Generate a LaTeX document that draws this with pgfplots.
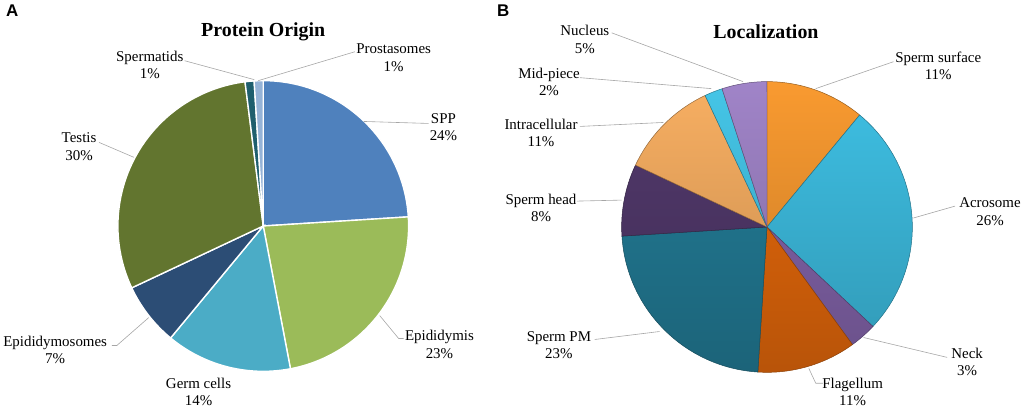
\documentclass[border=0pt]{standalone}
\usepackage{pgfplots}
\pgfplotsset{compat=1.18}
\usepackage{fontspec}
\setmainfont{Liberation Serif}
\newfontfamily\panelfont{Liberation Sans}

% left pie
\definecolor{spp}{HTML}{4F81BD}
\definecolor{epi}{HTML}{9BBB59}
\definecolor{germ}{HTML}{4BACC6}
\definecolor{epism}{HTML}{2C4D75}
\definecolor{testis}{HTML}{62752F}
\definecolor{sptid}{HTML}{1F5F6E}
\definecolor{prost}{HTML}{95B3D7}
% right pie
\definecolor{surf}{HTML}{F99A30}
\definecolor{acro}{HTML}{3EC0E4}
\definecolor{neck}{HTML}{8666AE}
\definecolor{flag}{HTML}{E96A0B}
\definecolor{spm}{HTML}{237E99}
\definecolor{head}{HTML}{52396C}
\definecolor{intra}{HTML}{F8AF62}
\definecolor{midp}{HTML}{45C6E8}
\definecolor{nuc}{HTML}{A084C8}
\definecolor{lead}{HTML}{A6A6A6}

% slice path of a pie of radius 146, centre (#1,#2), from #3 % to #4 %, clockwise from the top
\newcommand{\slicepath}[4]{(axis cs:{#1+146*cos(90-3.6*#3)},{#2+146*sin(90-3.6*#3)})
    arc[start angle={90-3.6*#3}, end angle={90-3.6*#4}, radius=146]
    -- (axis cs:#1,#2) -- cycle}
\newcommand{\slice}[5]{\path[#5] \slicepath{#1}{#2}{#3}{#4};}
% shaded slice: one gradient over the whole pie, light at the top, dark at the bottom
\newcommand{\bslice}[5]{%
  \begin{scope}
    \clip \slicepath{#1}{#2}{#3}{#4};
    \shade[top color=#5, bottom color=#5!79!black] (axis cs:#1,#2) circle[radius=147];
  \end{scope}
  \path[draw=#5!60!black, line width=0.5pt] \slicepath{#1}{#2}{#3}{#4};}
\tikzset{
  flatsl/.style={fill=#1, draw=white, line width=1.4pt},
  lbl/.style={font=\fontsize{15}{17.5}\selectfont, align=center},
  ttl/.style={font=\bfseries\fontsize{20}{24}\selectfont},
  pnl/.style={font=\panelfont\bfseries\fontsize{17}{20}\selectfont},
}

\begin{document}
\begin{tikzpicture}
\begin{axis}[
  width=1024pt, height=408pt, scale only axis,
  xmin=0, xmax=1024, ymin=0, ymax=408,
  hide axis, clip=false,
]
\path (axis cs:0,0) rectangle (axis cs:1024,408);

% ---- A: Protein Origin (SPP 24, Epididymis 23, Germ cells 14, Epididymosomes 7, Testis 30, Spermatids 1, Prostasomes 1)
\slice{262}{181}{0}{24}{flatsl=spp}
\slice{262}{181}{24}{47}{flatsl=epi}
\slice{262}{181}{47}{61}{flatsl=germ}
\slice{262}{181}{61}{68}{flatsl=epism}
\slice{262}{181}{68}{98}{flatsl=testis}
\slice{262}{181}{98}{99}{flatsl=sptid}
\slice{262}{181}{99}{100}{flatsl=prost}

\node[pnl] at (axis cs:10,397) {A};
\node[ttl] at (axis cs:262,376) {Protein Origin};

\begin{scope}[draw=lead, line width=0.6pt]
\draw (axis cs:354,356) -- (axis cs:257,327);
\draw (axis cs:183,347) -- (axis cs:253,328);
\draw (axis cs:428,284) -- (axis cs:363,286);
\draw (axis cs:97,265) -- (axis cs:132,250);
\draw (axis cs:110,61) -- (axis cs:115,61) -- (axis cs:147,89);
\draw (axis cs:403,68) -- (axis cs:398,68) -- (axis cs:379,91);
\end{scope}

\node[lbl] at (axis cs:393,350) {Prostasomes\\1\%};
\node[lbl] at (axis cs:148,342.5) {Spermatids\\1\%};
\node[lbl] at (axis cs:443,280.5) {SPP\\24\%};
\node[lbl] at (axis cs:77,260.5) {Testis\\30\%};
\node[lbl] at (axis cs:53,56.5) {Epididymosomes\\7\%};
\node[lbl] at (axis cs:197,14.5) {Germ cells\\14\%};
\node[lbl] at (axis cs:439,62) {Epididymis\\23\%};

% ---- B: Localization (Sperm surface 11, Acrosome 26, Neck 3, Flagellum 11, Sperm PM 23, Sperm head 8, Intracellular 11, Mid-piece 2, Nucleus 5)
\bslice{768}{180}{0}{11}{surf}
\bslice{768}{180}{11}{37}{acro}
\bslice{768}{180}{37}{40}{neck}
\bslice{768}{180}{40}{51}{flag}
\bslice{768}{180}{51}{74}{spm}
\bslice{768}{180}{74}{82}{head}
\bslice{768}{180}{82}{93}{intra}
\bslice{768}{180}{93}{95}{midp}
\bslice{768}{180}{95}{100}{nuc}

\node[pnl] at (axis cs:503,397) {B};
\node[ttl] at (axis cs:767,376) {Localization};

\begin{scope}[draw=lead, line width=0.6pt]
\draw (axis cs:612,375) -- (axis cs:744,326);
\draw (axis cs:580,330) -- (axis cs:712,319);
\draw (axis cs:580,281) -- (axis cs:664,285);
\draw (axis cs:577,206) -- (axis cs:622,207);
\draw (axis cs:595,67) -- (axis cs:660,75);
\draw (axis cs:824,23) -- (axis cs:817,23) -- (axis cs:810,38);
\draw (axis cs:949,49) -- (axis cs:865,69);
\draw (axis cs:957,201) -- (axis cs:915,189);
\draw (axis cs:895,346) -- (axis cs:817,319);
\end{scope}

\node[lbl] at (axis cs:585,368.5) {Nucleus\\5\%};
\node[lbl] at (axis cs:549,325.5) {Mid-piece\\2\%};
\node[lbl] at (axis cs:541,274.5) {Intracellular\\11\%};
\node[lbl] at (axis cs:541,199) {Sperm head\\8\%};
\node[lbl] at (axis cs:559,61.5) {Sperm PM\\23\%};
\node[lbl] at (axis cs:854,14.5) {Flagellum\\11\%};
\node[lbl] at (axis cs:969,44.5) {Neck\\3\%};
\node[lbl] at (axis cs:992,195.5) {Acrosome\\26\%};
\node[lbl] at (axis cs:940,342) {Sperm surface\\11\%};
\end{axis}
\end{tikzpicture}
\end{document}
